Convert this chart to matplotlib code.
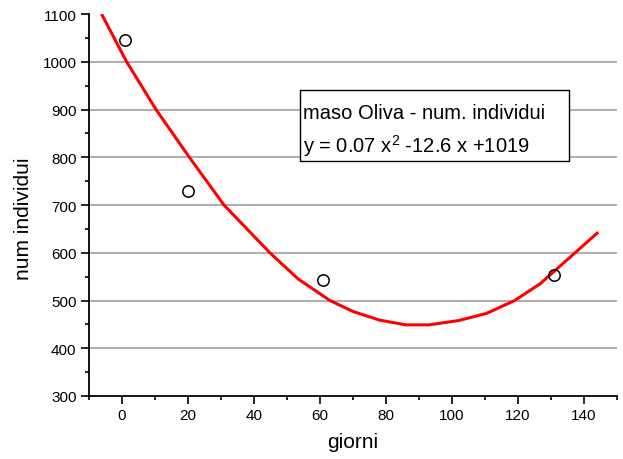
import matplotlib
matplotlib.use("Agg")
import matplotlib.pyplot as plt
from matplotlib.patches import Rectangle
from matplotlib.ticker import MultipleLocator

plt.rcParams['font.family'] = ['Liberation Sans', 'DejaVu Sans']

# observed counts
giorni = [1, 20, 61, 131]
individui = [1045, 730, 543, 553]

# quadratic fit curve
fit_x = [-6.2, 1.4, 10.3, 20.4, 30.9, 44.8, 53.4, 63, 70, 78, 86, 93,
         102, 110.5, 119, 126.7, 137.3, 144.3]
fit_y = [1100, 1000, 900, 800, 700, 600, 545, 500, 477, 459, 449, 449,
         458, 473, 500, 535, 600, 643]

legend_lines = ["maso Oliva - num. individui",
                r"y = 0.07 x$\mathregular{^2}$ -12.6 x +1019"]

fig = plt.figure(figsize=(6.23, 4.60), dpi=100)
ax = fig.add_axes([89/623, 63/460, 528/623, 382/460])

ax.plot(fit_x, fit_y, color="#ff0000", lw=2.2, zorder=3,
        solid_joinstyle="round", solid_capstyle="butt")
ax.plot(giorni, individui, "o", ms=8.2, mfc="none", mec="black", mew=1.1, zorder=4, clip_on=False)

ax.set_xlim(-10, 150)
ax.set_ylim(300, 1100)
ax.xaxis.set_major_locator(MultipleLocator(20))
ax.xaxis.set_minor_locator(MultipleLocator(10))
ax.yaxis.set_major_locator(MultipleLocator(100))
ax.yaxis.set_minor_locator(MultipleLocator(50))

ax.spines[["top", "right"]].set_visible(False)
for s in ("left", "bottom"):
    ax.spines[s].set_linewidth(1.3)

ax.tick_params(which="major", length=5.5, width=1.2, labelsize=11, pad=3.5)
ax.tick_params(which="minor", length=3.2, width=1.2)

# horizontal grid only inside the plot (not on 300 / 1100)
ymin, ymax = ax.get_ylim()
inner = [t for t in ax.get_yticks() if ymin < t < ymax]
ax.hlines(inner, *ax.get_xlim(), color="#a0a0a0", lw=1.2, zorder=1)

ax.set_xlabel("giorni", fontsize=15)
ax.set_ylabel("num individui", fontsize=15)
ax.xaxis.set_label_coords(0.5, -0.095)
ax.yaxis.set_label_coords(-0.106, 0.466)

ax.add_patch(Rectangle((0.3996, 0.615), 0.5094, 0.186, transform=ax.transAxes,
                       fill=True, facecolor="white", edgecolor="black", lw=1.0, zorder=5))
ax.text(0.405, 0.728, legend_lines[0], transform=ax.transAxes, fontsize=14.5, va="baseline", zorder=6)
ax.text(0.405, 0.638, legend_lines[1], transform=ax.transAxes, fontsize=14.5, va="baseline", zorder=6)

fig.savefig("out.png", dpi=100)
